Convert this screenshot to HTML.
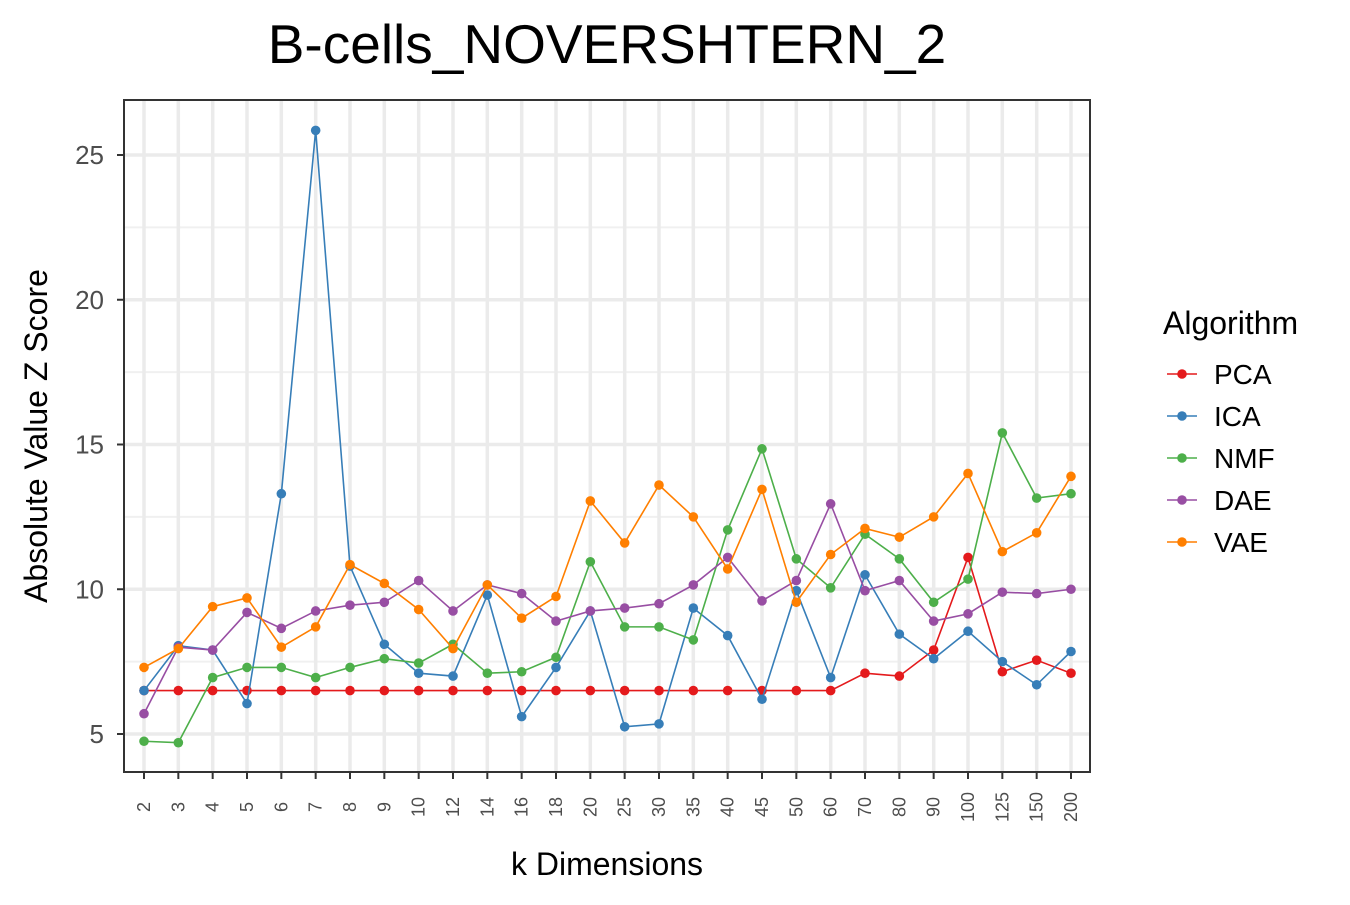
<!DOCTYPE html>
<html><head><meta charset="utf-8"><style>
body{margin:0;background:#fff;}
svg text{font-family:"Liberation Sans",Arial,sans-serif;}
</style></head><body>
<svg id="chart" width="1350" height="900" xmlns="http://www.w3.org/2000/svg">
<rect width="1350" height="900" fill="#fff"/>
<text x="607" y="63" font-size="55" text-anchor="middle" fill="#000">B-cells_NOVERSHTERN_2</text>
<g id="grid"></g>
<g id="series"></g>
<rect x="124" y="100" width="966" height="672" fill="none" stroke="#333" stroke-width="2"/>
<g id="axes"></g>
<text x="607" y="875" font-size="32" text-anchor="middle">k Dimensions</text>
<text transform="translate(47,436) rotate(-90)" font-size="32" text-anchor="middle">Absolute Value Z Score</text>
<g id="legend"></g>
</svg>
<script>
const categories=["2","3","4","5","6","7","8","9","10","12","14","16","18","20","25","30","35","40","45","50","60","70","80","90","100","125","150","200"];
const seriesNames=["PCA","ICA","NMF","DAE","VAE"];
const seriesColors=["#e41a1c","#377eb8","#4daf4a","#984ea3","#ff7f00"];
const pca=[6.5,6.5,6.5,6.5,6.5,6.5,6.5,6.5,6.5,6.5,6.5,6.5,6.5,6.5,6.5,6.5,6.5,6.5,6.5,6.5,6.5,7.1,7.0,7.9,11.1,7.15,7.55,7.1];
const ica=[6.5,8.05,7.9,6.05,13.3,25.85,10.8,8.1,7.1,7.0,9.8,5.6,7.3,9.25,5.25,5.35,9.35,8.4,6.2,9.95,6.95,10.5,8.45,7.6,8.55,7.5,6.7,7.85];
const nmf=[4.75,4.7,6.95,7.3,7.3,6.95,7.3,7.6,7.45,8.1,7.1,7.15,7.65,10.95,8.7,8.7,8.25,12.05,14.85,11.05,10.05,11.9,11.05,9.55,10.35,15.4,13.15,13.3];
const dae=[5.7,8.0,7.9,9.2,8.65,9.25,9.45,9.55,10.3,9.25,10.15,9.85,8.9,9.25,9.35,9.5,10.15,11.1,9.6,10.3,12.95,9.95,10.3,8.9,9.15,9.9,9.85,10.0];
const vae=[7.3,7.95,9.4,9.7,8.0,8.7,10.85,10.2,9.3,7.95,10.15,9.0,9.75,13.05,11.6,13.6,12.5,10.7,13.45,9.55,11.2,12.1,11.8,12.5,14.0,11.3,11.95,13.9];
const yTicks=[5,10,15,20,25];
const yMinor=[7.5,12.5,17.5,22.5];

const NS="http://www.w3.org/2000/svg";
const allSeries=[pca,ica,nmf,dae,vae];
const xS=i=>144+i*(1071-144)/(categories.length-1);
const yS=v=>734-(v-5)*(734-155)/20;
function mk(tag,attrs,parent){const e=document.createElementNS(NS,tag);for(const k in attrs)e.setAttribute(k,attrs[k]);parent.appendChild(e);return e;}
const grid=document.getElementById('grid'),axes=document.getElementById('axes'),ser=document.getElementById('series'),leg=document.getElementById('legend');
mk('rect',{x:124,y:100,width:966,height:672,fill:'#fff'},grid);
yMinor.forEach(v=>{const l=mk('line',{x1:124,x2:1090,y1:yS(v),y2:yS(v),stroke:'#f0f0f0','stroke-width':2},grid);

});
yTicks.forEach(v=>{const l=mk('line',{x1:124,x2:1090,y1:yS(v),y2:yS(v),stroke:'#ebebeb','stroke-width':3.5},grid);


const t=mk('line',{x1:117,x2:124,y1:yS(v),y2:yS(v),stroke:'#333','stroke-width':2},axes);


const tx=mk('text',{x:104,y:yS(v)+9,'font-size':26,'text-anchor':'end',fill:'#4d4d4d'},axes);tx.textContent=v;

});
categories.forEach((c,i)=>{const x=xS(i);
const l=mk('line',{x1:x,x2:x,y1:100,y2:772,stroke:'#ebebeb','stroke-width':3.5},grid);


const t=mk('line',{x1:x,x2:x,y1:772,y2:779,stroke:'#333','stroke-width':2},axes);


const tx=mk('text',{transform:`translate(${x+6},807) rotate(-90)`,'font-size':18,'text-anchor':'middle',fill:'#4d4d4d'},axes);tx.textContent=c;

});
allSeries.forEach((d,s)=>{const col=seriesColors[s];
const p=mk('polyline',{points:d.map((v,i)=>xS(i)+','+yS(v)).join(' '),fill:'none',stroke:col,'stroke-width':1.6},ser);


d.forEach((v,i)=>{const c=mk('circle',{cx:xS(i),cy:yS(v),r:4.8,fill:col},ser);

});});
const lt=mk('text',{x:1163,y:334,'font-size':32},leg);lt.textContent='Algorithm';


seriesNames.forEach((n,s)=>{const y=374+s*42;
const g=mk('g',{},leg);


mk('line',{x1:1167,x2:1197,y1:y,y2:y,stroke:seriesColors[s],'stroke-width':1.6},g);
mk('circle',{cx:1182,cy:y,r:4.8,fill:seriesColors[s]},g);
const t=mk('text',{x:1214,y:y+10,'font-size':28},g);t.textContent=n;});
</script>
</body></html>
